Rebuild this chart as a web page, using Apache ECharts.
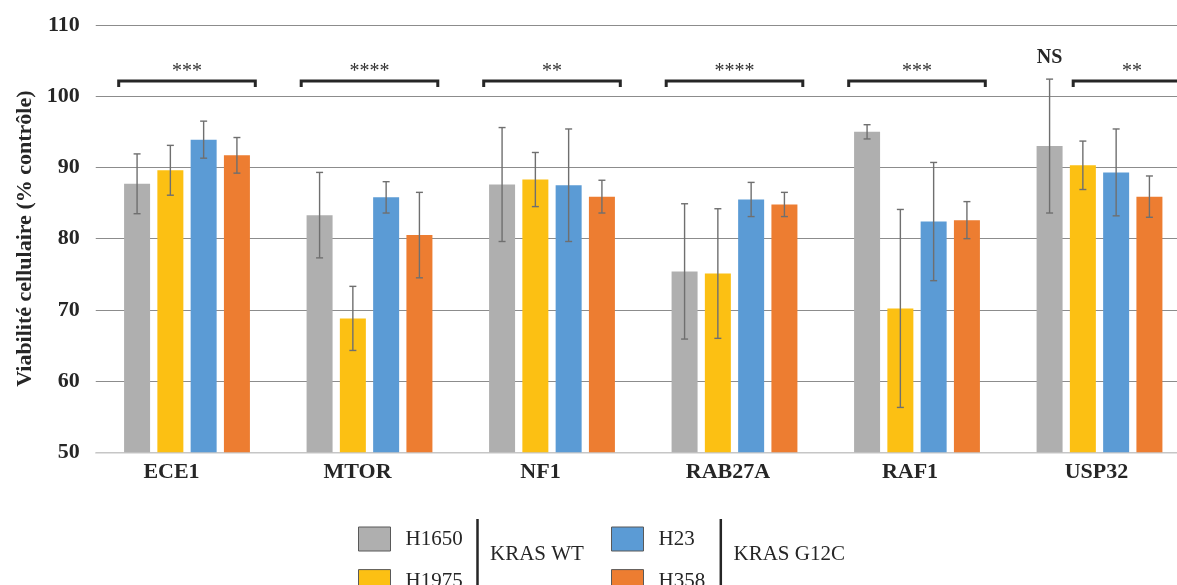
<!DOCTYPE html>
<html>
<head>
<meta charset="utf-8">
<script src="https://cdn.jsdelivr.net/npm/echarts@6/dist/echarts.min.js"></script>
<style>html,body{margin:0;padding:0;background:#fff;}#c{width:1177px;height:585px;}</style>
</head>
<body>
<div id="c"></div>
<script>
const categories = ['ECE1', 'MTOR', 'NF1', 'RAB27A', 'RAF1', 'USP32'];
const seriesNames = ['H1650', 'H1975', 'H23', 'H358'];
const h1650 = [87.7, 83.3, 87.6, 75.4, 95.0, 93.0];
const h1650Err = [4.2, 6.0, 8.0, 9.5, 1.0, 9.4];
const h1975 = [89.6, 68.8, 88.3, 75.1, 70.2, 90.3];
const h1975Err = [3.5, 4.5, 3.8, 9.1, 13.9, 3.4];
const h23 = [93.9, 85.8, 87.5, 85.5, 82.4, 89.3];
const h23Err = [2.6, 2.2, 7.9, 2.4, 8.3, 6.1];
const h358 = [91.7, 80.5, 85.9, 84.8, 82.6, 85.9];
const h358Err = [2.5, 6.0, 2.3, 1.7, 2.6, 2.9];
const sigLabels = ['***', '****', '**', '****', '***', '**'];
const sigFrom = [0, 0, 0, 0, 0, 1];
const nsLabels = ['', '', '', '', '', 'NS'];
const groupLabels = ['KRAS WT', 'KRAS G12C'];
const yTicks = {min: 50, max: 110, interval: 10};

const values = [h1650, h1975, h23, h358];
const errors = [h1650Err, h1975Err, h23Err, h358Err];
const colors = ['#afafaf', '#fcc013', '#5b9bd5', '#ed7d31'];
const serif = 'Liberation Serif';
const BAR_W = 26, GAP = 7.28, PITCH = BAR_W + GAP;
const labelShift = [31, 24, 23, 13, 14, 6];

const chart = echarts.init(document.getElementById('c'));

const series = [];
values.forEach((vals, k) => {
  series.push({
    name: seriesNames[k], type: 'bar', data: vals,
    barWidth: BAR_W, barGap: '28%',
    itemStyle: {color: colors[k]}, z: 2
  });
});
values.forEach((vals, k) => {
  series.push({
    name: 'err-' + seriesNames[k], type: 'custom', z: 5,
    data: vals.map((v, i) => [i, v, errors[k][i]]),
    renderItem: function (params, api) {
      const i = api.value(0), v = api.value(1), e = api.value(2);
      const cx = api.coord([i, v])[0] + (k - 1.5) * PITCH;
      const yt = api.coord([i, v + e])[1];
      const yb = api.coord([i, v - e])[1];
      const st = {stroke: '#6f6f6f', lineWidth: 1.4};
      const children = [
        {type: 'line', shape: {x1: cx, y1: yt, x2: cx, y2: yb}, style: st},
        {type: 'line', shape: {x1: cx - 3.5, y1: yt, x2: cx + 3.5, y2: yt}, style: st},
        {type: 'line', shape: {x1: cx - 3.5, y1: yb, x2: cx + 3.5, y2: yb}, style: st}
      ];
      if (k === 0 && nsLabels[i]) {
        children.push({type: 'text', x: cx, y: yt - 21, style: {
          text: nsLabels[i], fill: '#262626', font: 'bold 20px "' + serif + '"',
          align: 'center', verticalAlign: 'middle'}});
      }
      return {type: 'group', children: children};
    },
    silent: true
  });
});
series.push({
  name: 'brackets', type: 'custom', z: 6, silent: true, clip: false,
  data: categories.map((c, i) => [i, 102.15]),
  renderItem: function (params, api) {
    const i = api.value(0);
    const p = api.coord([i, api.value(1)]);
    const halfW = 68.3;
    const from = sigFrom[i];
    const left = p[0] - halfW + from * 42;
    const right = p[0] + halfW + from * 42;
    const cs = params.coordSys;
    const visRight = Math.min(right, cs.x + cs.width);
    const y = p[1];
    return {type: 'group', children: [
      {type: 'polyline', shape: {points: [[left, y + 6], [left, y], [right, y], [right, y + 6]]},
        style: {stroke: '#262626', lineWidth: 3, fill: null}},
      {type: 'text', x: (left + visRight) / 2, y: y - 9, style: {
        text: sigLabels[i], fill: '#333', font: '20px "' + serif + '"',
        align: 'center', verticalAlign: 'middle'}}
    ]};
  }
});

const rich = {};
labelShift.forEach((s, i) => { rich['s' + i] = {padding: [0, s, 0, 0], fontFamily: serif, fontWeight: 'bold', fontSize: 22, color: '#262626'}; });

const legendBase = {
  orient: 'vertical', itemWidth: 32, itemHeight: 24, itemGap: 17.6, icon: 'rect',
  height: 120, width: 140,
  itemStyle: {borderColor: '#595959', borderWidth: 1},
  textStyle: {fontFamily: serif, fontSize: 21, color: '#262626', padding: [0, 0, 0, 10]},
  selectedMode: false
};

chart.setOption({
  animation: false,
  backgroundColor: '#fff',
  grid: {left: 95.75, right: -13.75, top: 25, bottom: 132.7, containLabel: false, outerBoundsMode: 'none'},
  legend: [
    Object.assign({}, legendBase, {data: seriesNames.slice(0, 2), left: 353, top: 521.5}),
    Object.assign({}, legendBase, {data: seriesNames.slice(2, 4), left: 606, top: 521.5})
  ],
  xAxis: {
    type: 'category', data: categories,
    axisTick: {show: false},
    axisLine: {lineStyle: {color: '#d9d9d9', width: 1.5}},
    axisLabel: {
      margin: 9,
      formatter: (v, i) => '{s' + i + '|' + v + '}',
      rich: rich
    }
  },
  yAxis: {
    type: 'value', min: yTicks.min, max: yTicks.max, interval: yTicks.interval,
    name: 'Viabilité cellulaire (% contrôle)', nameLocation: 'middle', nameGap: 58,
    nameTextStyle: {fontFamily: serif, fontWeight: 'bold', fontSize: 22, color: '#262626'},
    axisLine: {show: false}, axisTick: {show: false},
    axisLabel: {margin: 16, fontFamily: serif, fontWeight: 'bold', fontSize: 22, color: '#262626'},
    splitLine: {lineStyle: {color: '#8c8c8c', width: 1.2}}
  },
  graphic: [
    {type: 'line', shape: {x1: 477.5, y1: 519, x2: 477.5, y2: 590}, style: {stroke: '#262626', lineWidth: 2.5}},
    {type: 'line', shape: {x1: 720.8, y1: 519, x2: 720.8, y2: 590}, style: {stroke: '#262626', lineWidth: 2.5}},
    {type: 'text', left: 490, top: 544, style: {text: groupLabels[0], font: '21px "' + serif + '"', fill: '#262626'}},
    {type: 'text', left: 733.5, top: 544, style: {text: groupLabels[1], font: '21px "' + serif + '"', fill: '#262626'}}
  ],
  series: series
});
</script>
</body>
</html>
